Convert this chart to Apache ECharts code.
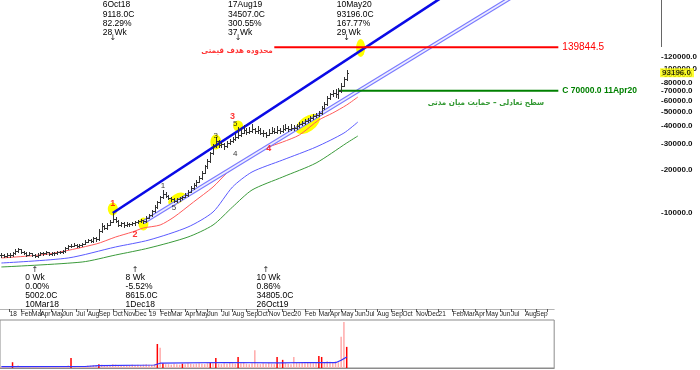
<!DOCTYPE html>
<html><head><meta charset="utf-8">
<script src="https://cdn.jsdelivr.net/npm/echarts@6/dist/echarts.min.js"></script>
<style>html,body{margin:0;padding:0;background:#fff}#c{width:700px;height:370px}</style>
</head><body><div id="c"></div>
<script>
// ---------- categories (weekly bars, Saturday week start) ----------
const firstWeek = '2017-12-16';
const skippedWeeks = ['2018-03-17', '2018-03-24'];
const weekCount = 237;
const volumeWeekCount = 199;
const monthNames = ['Jan','Feb','Mar','Apr','May','Jun','Jul','Aug','Sep','Oct','Nov','Dec'];

// ---------- weekly price bars [open, high, low, close] ----------
const priceBars = [
[5150,5250,5000,5100],[5100,5200,4950,5050],[5050,5250,5000,5150],[5150,5250,5000,5100],[5100,5350,5050,5250],
[5250,5650,5200,5500],[5500,5750,5400,5600],[5600,5650,5300,5400],[5400,5450,5200,5300],[5300,5350,5050,5150],
[5150,5350,5100,5250],[5250,5300,5050,5100],[5100,5200,4950,5002],[5002,5250,4980,5150],[5150,5400,5100,5300],
[5300,5350,5150,5250],[5250,5450,5200,5350],[5350,5400,5100,5200],[5200,5400,5150,5300],[5300,5350,5150,5250],
[5250,5500,5200,5400],[5400,5450,5250,5350],[5350,5550,5300,5450],[5450,5800,5400,5700],[5700,6000,5650,5900],
[5900,6100,5800,5950],[5950,6200,5900,6050],[6050,6100,5800,5900],[5900,6100,5850,6000],[6000,6250,5950,6150],
[6150,6500,6100,6350],[6350,6650,6300,6500],[6500,6600,6300,6400],[6400,6850,6350,6700],[6700,6800,6400,6600],
[6600,7700,6550,7500],[7500,8500,7400,8100],[8100,8300,7700,7900],[7900,8500,7800,8300],[8300,9000,8200,8700],
[8700,10000,8600,9118],[9118,9400,8600,8800],[8800,8900,8100,8300],[8300,8700,8100,8500],[8500,8600,8000,8200],
[8200,8600,8100,8400],[8400,8550,8150,8350],[8350,8700,8250,8500],[8500,8800,8300,8615],[8615,9000,8500,8800],
[8800,9100,8650,8900],[8900,9000,8500,8750],[8750,9500,8700,9300],[9300,9900,9200,9700],[9700,10500,9600,10300],
[10300,11300,10200,11000],[11000,12200,10900,11900],[11900,13200,11800,12800],[12800,14500,12700,13600],[13600,13900,12800,13100],
[13100,13300,12400,12700],[12700,13000,12100,12400],[12400,12700,11900,12200],[12200,12700,12000,12400],[12400,12900,12200,12600],
[12600,13200,12400,12900],[12900,13700,12800,13300],[13300,14400,13200,14000],[14000,15400,13900,15000],[15000,16000,14700,15500],
[15500,17000,15300,16500],[16500,18000,16300,17500],[17500,19500,17300,19000],[19000,21500,18800,21000],[21000,23500,20500,23000],
[23000,26500,22500,26000],[26000,30000,25500,29000],[29000,33500,28500,31500],[31500,32000,28500,29500],[29500,31000,28500,30000],
[30000,30500,27500,29000],[29000,31500,28500,30500],[30500,32500,30000,31500],[31500,33500,31000,32500],[32500,36000,32000,33500],
[33500,39500,33000,34507],[34507,38500,34000,36000],[36000,40500,35500,37500],[37500,39000,35000,36500],[36500,39500,35500,37000],
[37000,41000,36500,38000],[38000,39000,35500,36800],[36800,40000,36000,37500],[37500,38500,35000,36000],[36000,37500,34000,35500],
[35500,36500,33500,34805],[34805,38000,34500,36000],[36000,39500,35500,37000],[37000,38500,35500,36500],[36500,40000,36000,37500],
[37500,39000,36000,37000],[37000,40500,36500,38000],[38000,41000,37500,38500],[38500,40000,37000,38000],[38000,41000,37500,39000],
[39000,40500,37500,38500],[38500,41500,38000,40000],[40000,42500,39500,41000],[41000,43500,40500,42000],[42000,44500,41500,43000],
[43000,45500,42500,44000],[44000,47000,43500,45500],[45500,48000,45000,46500],[46500,49000,46000,47500],[47500,51000,47000,49000],
[49000,55000,48500,53000],[53000,59000,52000,57000],[57000,64000,56000,62000],[62000,68000,61000,66000],[66000,71000,64000,68000],
[68000,72000,63000,67000],[67000,73000,62000,70000],[70000,79000,69000,76000],[76000,87000,75000,84000],[84000,97000,83000,93196]
];

// ---------- moving averages (sampled [week index, value]) ----------
const maRed = [[0,4887],[17,5206],[34,6103],[41,6820],[47,7389],[51,7874],[57,8260],[62,9380],[69,11910],[76,15130],[81,18910],[86,22170],[90,25180],[95,28150],[101,30970],[107,34630],[114,43980],[119,49160],[124,55850],[128,63390]];
const maBlue = [[0,4510],[24,4887],[41,5821],[53,6502],[67,8000],[76,10160],[83,15130],[90,19210],[101,23250],[113,28600],[123,35720],[128,42560]];
const maGreen = [[0,4233],[29,4582],[41,5122],[53,5727],[67,6820],[76,8260],[83,11000],[90,14420],[101,17740],[113,22170],[124,30480],[128,34080]];

// ---------- drawn lines ----------
const trendLine = [[40,10000],[160,326400]];
const channelLine = [[51,8638],[190,373000]];
const targetLevel = 139844.5;
const targetRange = [98, 200];
const supportLevel = 70000;
const supportRange = [121, 200];
const lastClose = 93196;

// ---------- price axis tick labels ----------
const priceTickValues = [10000,20000,30000,40000,50000,60000,70000,80000,90000,100000,110000,120000];

// ---------- highlight blobs and wave labels ----------
const highlightPoints = [[40,10660],[51,8392],[63,12500],[77,30970],[85,39970],[110,41260],[129,138400]];
const waveLabels = [['1',40,11540,'r'],['2',48,7050,'r'],['1',58,15370,'k'],['5',62,10830,'k'],['3',77,34080,'k'],['4',84,25590,'k'],['3',83,46130,'r'],['5',84,41260,'k'],['4',96,27710,'r']];

// ---------- zigzag notes ----------
const topNotes = [
  {idx: 40, lines: ['6Oct18','9118.0C','82.29%','28 Wk']},
  {idx: 85, lines: ['17Aug19','34507.0C','300.55%','37 Wk']},
  {idx: 124, lines: ['10May20','93196.0C','167.77%','29 Wk']}
];
const bottomNotes = [
  {idx: 12, lines: ['0 Wk','0.00%','5002.0C','10Mar18']},
  {idx: 48, lines: ['8 Wk','-5.52%','8615.0C','1Dec18']},
  {idx: 95, lines: ['10 Wk','0.86%','34805.0C','26Oct19']}
];
const targetText = 'محدوده هدف قیمتی';
const supportText = 'سطح تعادلی – حمایت میان مدتی';
const supportTextAt = [174, 57650];

// ---------- volume ----------
const volumes = [
3,3,4,3,12,4,5,3,3,3, 3,3,3,3,3,4,3,3,3,3, 3,3,3,4,5,21,4,3,4,4, 4,5,5,6,5,8,7,6,5,6,
8,7,6,6,5,6,6,7,6,7, 6,7,8,7,6,8,50,42,10,8, 8,7,9,8,7,9,8,10,9,8, 9,10,9,8,10,11,10,21,9,8,
10,9,11,10,9,23,10,12,9,8, 10,37,9,8,10,9,11,9,8,23, 9,17,10,9,8,23,11,10,12,10, 11,12,10,11,25,23,12,14,13,11,
14,12,65,96,44
];
const volumeRedWeeks = [4,25,35,56,58,65,75,77,85,99,101,114,115,124];
const volumeMA = [[0,2.7],[30,3.1],[35,5],[55,6.2],[57,10],[80,11.5],[100,10.5],[110,11.5],[120,11],[122,16],[124,23]];

// ---------- build ----------
const categories = [];
(function(){
  let t = new Date(firstWeek + 'T00:00:00Z').getTime();
  while (categories.length < weekCount) {
    const s = new Date(t).toISOString().slice(0,10);
    if (!skippedWeeks.includes(s)) categories.push(s);
    t += 7 * 86400000;
  }
})();
const volCats = categories.slice(0, volumeWeekCount);
function monthStart(i) {
  if (i === 0) return false;
  return categories[i].slice(5,7) !== categories[i-1].slice(5,7);
}
function monthLabel(v) {
  const m = +v.slice(5,7);
  return m === 1 ? v.slice(2,4) : monthNames[m-1];
}

const FONT = 'Liberation Sans';
const FA = '"DejaVu Sans Condensed", "DejaVu Sans"';
const chart = echarts.init(document.getElementById('c'), null, {renderer: 'canvas'});
const P = {xAxisIndex: 0, yAxisIndex: 0};
const blobStyle = [[10,13,0],[10,13,0],[19,10,30],[11,15,0],[10,11,0],[28,15,35],[9,18,0]];

const option = {
  animation: false,
  textStyle: {fontFamily: FONT},
  grid: [
    {left: 0, top: 0, width: 660, height: 309},
    {left: 0, top: 320, width: volumeWeekCount * 660 / weekCount, height: 48, show: true, borderColor: '#8c8c8c', borderWidth: 1}
  ],
  xAxis: [
    {type: 'category', gridIndex: 0, data: categories, show: false},
    {type: 'category', gridIndex: 1, data: volCats, position: 'top',
      axisLine: {lineStyle: {color: '#8c8c8c'}}, axisTick: {show: false},
      axisLabel: {interval: monthStart, formatter: monthLabel, align: 'left', fontSize: 6.5, margin: 2, color: '#222', hideOverlap: false, fontFamily: FONT}},
    {type: 'category', gridIndex: 1, data: volCats, position: 'top', offset: 11,
      axisLine: {lineStyle: {color: '#b4b4b4'}},
      axisTick: {show: true, inside: true, length: 3, alignWithLabel: true, interval: monthStart, lineStyle: {color: '#555'}},
      axisLabel: {show: false}}
  ],
  yAxis: [
    {type: 'log', logBase: 10, gridIndex: 0, min: 2168, max: 297200, position: 'right',
      axisLine: {show: false}, axisTick: {show: false}, splitLine: {show: false},
      axisLabel: {customValues: priceTickValues, showMinLabel: true, showMaxLabel: true, hideOverlap: false,
        formatter: v => '-' + Number(v).toFixed(1), margin: 1, fontSize: 8, fontWeight: 'bold', color: '#111', fontFamily: FONT}},
    {type: 'value', gridIndex: 1, min: 0, max: 100, show: false}
  ],
  series: [
    {type: 'scatter', ...P, z: 1, silent: true,
      data: highlightPoints.map((p, k) => ({value: p, symbolSize: [blobStyle[k][0], blobStyle[k][1]], symbolRotate: blobStyle[k][2]})),
      symbol: 'circle', itemStyle: {color: '#ffff00', opacity: 1}},
    {type: 'line', ...P, z: 2, data: maRed, showSymbol: false, smooth: 0.25, lineStyle: {color: '#ff5a5a', width: 1}},
    {type: 'line', ...P, z: 2, data: maBlue, showSymbol: false, smooth: 0.25, lineStyle: {color: '#5a5aff', width: 1}},
    {type: 'line', ...P, z: 2, data: maGreen, showSymbol: false, smooth: 0.25, lineStyle: {color: '#3a9a3a', width: 1}},
    {type: 'line', ...P, z: 3, data: channelLine, showSymbol: false, lineStyle: {color: '#7a7aff', width: 4}},
    {type: 'line', ...P, z: 3, data: channelLine, showSymbol: false, lineStyle: {color: '#eef', width: 1.7}},
    {type: 'line', ...P, z: 3, data: trendLine, showSymbol: false, lineStyle: {color: '#0a0ae6', width: 2.6}},
    {type: 'line', ...P, z: 3, data: [[targetRange[0], targetLevel], [targetRange[1], targetLevel]], showSymbol: false,
      lineStyle: {color: '#ff0000', width: 2},
      endLabel: {show: true, formatter: String(targetLevel), color: '#ff0000', fontSize: 10, distance: 4, fontFamily: FONT}},
    {type: 'line', ...P, z: 3, data: [[supportRange[0], supportLevel], [supportRange[1], supportLevel]], showSymbol: false,
      lineStyle: {color: '#008000', width: 2},
      endLabel: {show: true, formatter: 'C ' + supportLevel.toFixed(1) + ' 11Apr20', color: '#008000', fontSize: 8.5, fontWeight: 'bold', distance: 4, fontFamily: FONT}},
    {type: 'custom', ...P, z: 4, silent: true,
      data: priceBars.map((b, i) => [i, b[0], b[1], b[2], b[3]]),
      encode: {x: 0, y: [1,2,3,4]},
      renderItem: function(params, api) {
        const i = api.value(0);
        const o = api.coord([i, api.value(1)]);
        const h = api.coord([i, api.value(2)]);
        const l = api.coord([i, api.value(3)]);
        const c = api.coord([i, api.value(4)]);
        const xi = Math.round(o[0]);
        const st = {stroke: '#333', lineWidth: 1};
        const yo = Math.round(o[1]) + 0.5, yc = Math.round(c[1]) + 0.5;
        return {type: 'group', children: [
          {type: 'line', shape: {x1: xi + 0.5, y1: Math.round(h[1]), x2: xi + 0.5, y2: Math.round(l[1]) + 1}, style: st},
          {type: 'line', shape: {x1: xi - 1, y1: yo, x2: xi, y2: yo}, style: st},
          {type: 'line', shape: {x1: xi + 1, y1: yc, x2: xi + 2, y2: yc}, style: st}
        ]};
      }},
    {type: 'scatter', ...P, z: 6, silent: true, symbolSize: 1, itemStyle: {color: 'transparent'},
      data: waveLabels.map(w => ({value: [w[1], w[2]], label: {show: true, position: 'inside', formatter: w[0],
        color: w[3] === 'r' ? '#ff0000' : '#000', fontSize: w[3] === 'r' ? 9 : 8, fontWeight: w[3] === 'r' ? 'bold' : 'normal', fontFamily: FONT}}))},
    {type: 'scatter', ...P, z: 6, silent: true, symbolSize: 1, itemStyle: {color: 'transparent'},
      data: [
        {value: [targetRange[0], targetLevel], label: {show: true, position: 'left', distance: 1, offset: [0, 4], formatter: targetText, color: '#ff0000', fontSize: 8, fontWeight: 'bold', fontFamily: FA}},
        {value: supportTextAt, label: {show: true, position: 'inside', formatter: supportText, color: '#008000', fontSize: 8, fontWeight: 'bold', fontFamily: FA}},
        {value: [weekCount - 1, lastClose], label: {show: true, position: 'right', distance: 1, formatter: lastClose.toFixed(1), color: '#000', backgroundColor: '#ffff00', padding: [1, 3, 0, 2], fontSize: 8, fontWeight: 'bold', fontFamily: FONT}}
      ]},
    {type: 'bar', xAxisIndex: 1, yAxisIndex: 1, barWidth: 1.5, silent: true,
      data: volumes.map((v, i) => ({value: v, itemStyle: {color: volumeRedWeeks.includes(i) ? '#ff0000' : '#ffaaaa'}}))},
    {type: 'line', xAxisIndex: 1, yAxisIndex: 1, data: volumeMA, showSymbol: false, z: 5, lineStyle: {color: '#3333ff', width: 1.2}}
  ]
};
chart.setOption(option);

// zigzag notes anchored at pivot weeks
const g = [];
topNotes.forEach(n => {
  const x = chart.convertToPixel({xAxisIndex: 0}, n.idx);
  g.push({type: 'text', x: x - 10, y: 0.5, silent: true, style: {text: n.lines.join('\n'), fontSize: 8.5, lineHeight: 9.2, fontFamily: FONT, fill: '#000'}});
  g.push({type: 'text', x: x, y: 34, silent: true, style: {text: '↓', fontSize: 8, fontFamily: 'DejaVu Sans', fill: '#222', align: 'center'}});
});
bottomNotes.forEach(n => {
  const x = chart.convertToPixel({xAxisIndex: 0}, n.idx);
  g.push({type: 'text', x: x, y: 265.5, silent: true, style: {text: '↑', fontSize: 8, fontFamily: 'DejaVu Sans', fill: '#222', align: 'center'}});
  g.push({type: 'text', x: x - 9.5, y: 273.8, silent: true, style: {text: n.lines.join('\n'), fontSize: 8.5, lineHeight: 8.7, fontFamily: FONT, fill: '#000'}});
});
g.push({type: 'line', silent: true, shape: {x1: 661.5, y1: 0, x2: 661.5, y2: 47}, style: {stroke: '#666', lineWidth: 1}});
g.push({type: 'text', x: 641, y: -6.5, silent: true, style: {text: '-300000.0', fontSize: 8, fontFamily: FONT, fill: '#ff0000'}});
chart.setOption({graphic: g});
</script></body></html>
